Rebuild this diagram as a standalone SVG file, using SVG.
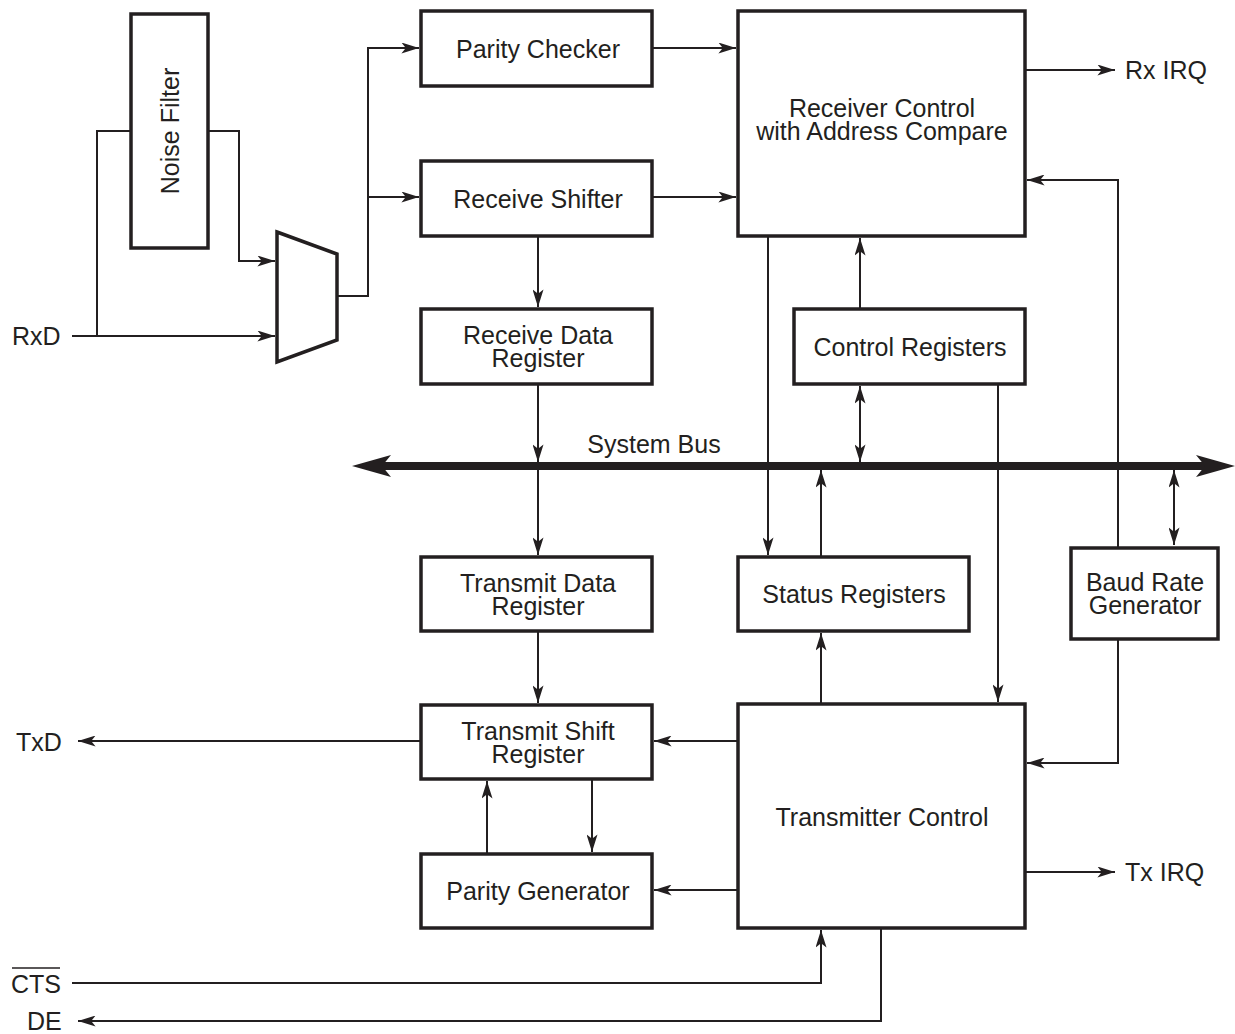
<svg xmlns="http://www.w3.org/2000/svg" width="1235" height="1034" viewBox="0 0 1235 1034">
<style>
.box{fill:#fff;stroke:#231f20;stroke-width:3.5}
.ln{fill:none;stroke:#231f20;stroke-width:2}
.t{font-family:"Liberation Sans",Arial,sans-serif;font-size:25px;fill:#231f20;text-anchor:middle}
.tl{font-family:"Liberation Sans",Arial,sans-serif;font-size:25px;fill:#231f20}
</style>
<defs>
<marker id="a" viewBox="0 0 16 10" refX="16" refY="5" markerWidth="18" markerHeight="11" markerUnits="userSpaceOnUse" orient="auto-start-reverse">
<path d="M0,0 L16,5 L0,10 L4,5 Z" fill="#231f20"/>
</marker>
</defs>
<rect width="1235" height="1034" fill="#fff"/>
<g id="connectors">
<path class="ln" d="M131,131 H97 V336"/>
<path class="ln" d="M72,336 H275" marker-end="url(#a)"/>
<path class="ln" d="M208,131 H239 V261 H275" marker-end="url(#a)"/>
<path class="ln" d="M337,296 H368 V48 H419" marker-end="url(#a)"/>
<path class="ln" d="M368,197 H419" marker-end="url(#a)"/>
<path class="ln" d="M652,48 H736" marker-end="url(#a)"/>
<path class="ln" d="M652,197 H736" marker-end="url(#a)"/>
<path class="ln" d="M538,236 V307" marker-end="url(#a)"/>
<path class="ln" d="M538,384 V462" marker-end="url(#a)"/>
<path class="ln" d="M538,470 V555" marker-end="url(#a)"/>
<path class="ln" d="M538,631 V703" marker-end="url(#a)"/>
<path class="ln" d="M421,741 H78" marker-end="url(#a)"/>
<path class="ln" d="M738,741 H654" marker-end="url(#a)"/>
<path class="ln" d="M738,890 H654" marker-end="url(#a)"/>
<path class="ln" d="M487,854 V781" marker-end="url(#a)"/>
<path class="ln" d="M592,779 V852" marker-end="url(#a)"/>
<path class="ln" d="M768,236 V555" marker-end="url(#a)"/>
<path class="ln" d="M860,309 V238" marker-end="url(#a)"/>
<path class="ln" d="M860,386 V462" marker-start="url(#a)" marker-end="url(#a)"/>
<path class="ln" d="M821,557 V470" marker-end="url(#a)"/>
<path class="ln" d="M821,704 V633" marker-end="url(#a)"/>
<path class="ln" d="M998,384 V702" marker-end="url(#a)"/>
<path class="ln" d="M1118,547 V180 H1027" marker-end="url(#a)"/>
<path class="ln" d="M1118,639 V763 H1027" marker-end="url(#a)"/>
<path class="ln" d="M1174,470 V545" marker-start="url(#a)" marker-end="url(#a)"/>
<path class="ln" d="M1025,70 H1115" marker-end="url(#a)"/>
<path class="ln" d="M1025,872 H1115" marker-end="url(#a)"/>
<path class="ln" d="M72,983 H821 V930" marker-end="url(#a)"/>
<path class="ln" d="M881,928 V1021 H78" marker-end="url(#a)"/>
<g id="system-bus">
<rect x="380" y="462" width="828" height="8" fill="#231f20"/>
<path d="M352,466 L391,455 L382,466 L391,477 Z" fill="#231f20"/>
<path d="M1235,466 L1196,455 L1205,466 L1196,477 Z" fill="#231f20"/>
</g>
</g>
<g id="noise-filter">
<rect class="box" x="131" y="14" width="77" height="234"/>
<text class="t" transform="translate(179,131) rotate(-90)">Noise Filter</text>
</g>
<g id="mux">
<polygon class="box" points="277,232 337,254 337,340 277,362"/>
</g>
<g id="parity-checker">
<rect class="box" x="421" y="11" width="231" height="75"/>
<text class="t" x="538" y="58">Parity Checker</text>
</g>
<g id="receive-shifter">
<rect class="box" x="421" y="161" width="231" height="75"/>
<text class="t" x="538" y="208">Receive Shifter</text>
</g>
<g id="receive-data-register">
<rect class="box" x="421" y="309" width="231" height="75"/>
<text class="t" x="538" y="344">Receive Data<tspan x="538" dy="23">Register</tspan></text>
</g>
<g id="receiver-control">
<rect class="box" x="738" y="11" width="287" height="225"/>
<text class="t" x="882" y="117">Receiver Control<tspan x="882" dy="23">with Address Compare</tspan></text>
</g>
<g id="control-registers">
<rect class="box" x="794" y="309" width="231" height="75"/>
<text class="t" x="910" y="356">Control Registers</text>
</g>
<g id="transmit-data-register">
<rect class="box" x="421" y="557" width="231" height="74"/>
<text class="t" x="538" y="592">Transmit Data<tspan x="538" dy="23">Register</tspan></text>
</g>
<g id="status-registers">
<rect class="box" x="738" y="557" width="231" height="74"/>
<text class="t" x="854" y="603">Status Registers</text>
</g>
<g id="baud-rate-generator">
<rect class="box" x="1071" y="548" width="147" height="91"/>
<text class="t" x="1145" y="591">Baud Rate<tspan x="1145" dy="23">Generator</tspan></text>
</g>
<g id="transmit-shift-register">
<rect class="box" x="421" y="705" width="231" height="74"/>
<text class="t" x="538" y="740">Transmit Shift<tspan x="538" dy="23">Register</tspan></text>
</g>
<g id="parity-generator">
<rect class="box" x="421" y="854" width="231" height="74"/>
<text class="t" x="538" y="900">Parity Generator</text>
</g>
<g id="transmitter-control">
<rect class="box" x="738" y="704" width="287" height="224"/>
<text class="t" x="882" y="826">Transmitter Control</text>
</g>
<g id="labels">
<text class="t" x="654" y="453">System Bus</text>
<text class="tl" x="12" y="345">RxD</text>
<text class="tl" x="16" y="751">TxD</text>
<text class="tl" x="1125" y="79">Rx IRQ</text>
<text class="tl" x="1125" y="881">Tx IRQ</text>
<text class="tl" x="11" y="993" textLength="50" lengthAdjust="spacingAndGlyphs">CTS</text>
<line x1="12" y1="968" x2="60" y2="968" stroke="#231f20" stroke-width="1.5"/>
<text class="tl" x="27" y="1030">DE</text>
</g>
</svg>
